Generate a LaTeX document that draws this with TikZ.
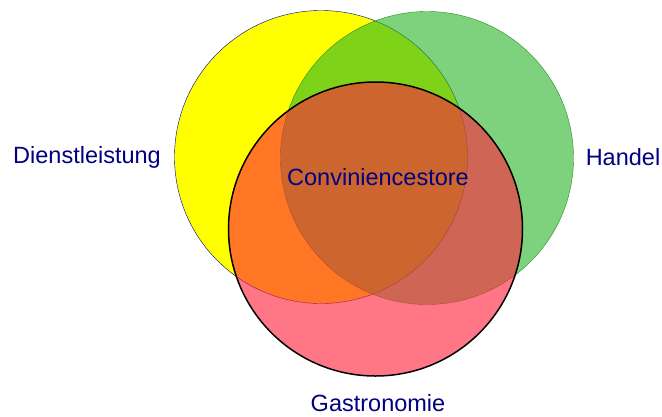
\documentclass[tikz,border=0pt]{standalone}
\usepackage{fontspec}
\setmainfont{Liberation Sans}
\usepackage{xcolor}
\usetikzlibrary{positioning}

\definecolor{labelblue}{RGB}{0,0,128}
\definecolor{setyellow}{RGB}{255,255,0}
\definecolor{setgreen}{RGB}{40,180,40}
\definecolor{setred}{RGB}{255,35,60}

\begin{document}
\begin{tikzpicture}[
    x=1pt,
    y=-1pt
]

\tikzstyle{set}=[
    circle,
    minimum size=293pt,
    inner sep=0pt
]

\tikzstyle{setlabel}=[
    text=labelblue,
    font=\fontsize{23.5}{28}\selectfont,
    inner sep=0pt
]

\useasboundingbox (0,0) rectangle (662,416);

\node[set, draw=labelblue, fill=setyellow] (dienst) at (321,157) {};
\node[set, draw=setgreen!80!black, fill=setgreen, fill opacity=0.6] (handel) at (427,158) {};
\node[set, draw=black, line width=1.5pt, fill=setred, fill opacity=0.62, minimum size=294pt] (gastro) at (375.5,229) {};

\node[setlabel] (ldienst) at (87,157) {Dienstleistung};
\node[setlabel] (lhandel) at (623,157) {Handel};
\node[setlabel] (lconv) at (378,177) {Conviniencestore};
\node[setlabel] (lgastro) at (378,403) {Gastronomie};

\end{tikzpicture}
\end{document}
